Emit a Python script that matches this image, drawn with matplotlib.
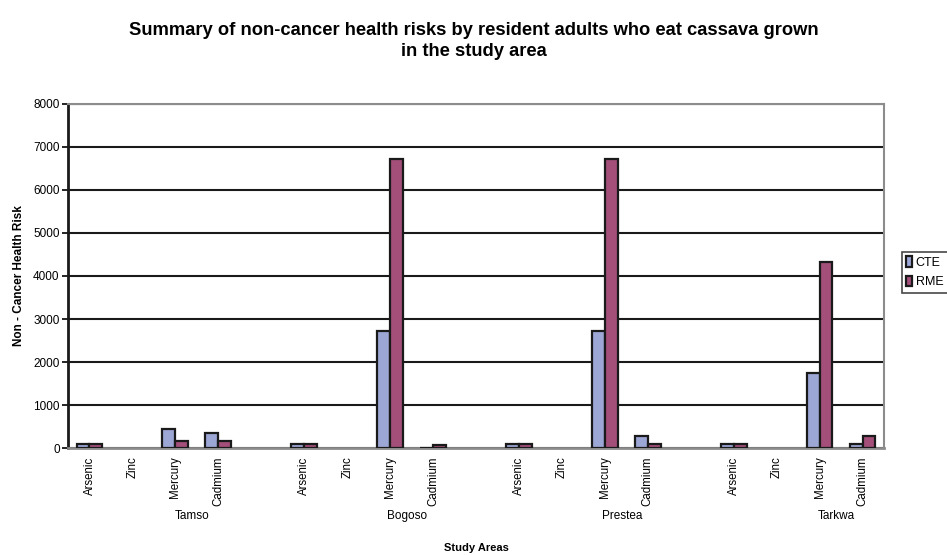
import numpy as np
import matplotlib
matplotlib.use("Agg")
import matplotlib.pyplot as plt
import matplotlib.transforms as mtransforms

plt.rcParams.update({'font.family': ['Liberation Sans', 'DejaVu Sans']})

areas = ['Tamso', 'Bogoso', 'Prestea', 'Tarkwa']
metals = ['Arsenic', 'Zinc', 'Mercury', 'Cadmium']
# zinc has no reported value in any area
cte = [100, np.nan, 440, 340,
       100, np.nan, 2720, 5,
       100, np.nan, 2720, 280,
       100, np.nan, 1740, 100]
rme = [100, np.nan, 170, 170,
       100, np.nan, 6730, 60,
       100, np.nan, 6730, 100,
       100, np.nan, 4330, 280]

CTE_C = "#9DA7D6"; RME_C = "#A34F7A"; FRAME = "#8C8C8C"

# one blank slot between study areas
xpos = np.array([g*5 + m for g in range(len(areas)) for m in range(len(metals))])
labels = [m for _ in areas for m in metals]

fig = plt.figure(figsize=(9.47, 5.56), dpi=100)
fig.patch.set_facecolor('white')
ax = fig.add_axes([0.0718, 0.1942, 0.8617, 0.6188])

w = 0.3
ax.bar(xpos - w/2, cte, w, color=CTE_C, edgecolor='#1a1a1a', lw=1.6, label='CTE', zorder=3)
ax.bar(xpos + w/2, rme, w, color=RME_C, edgecolor='#1a1a1a', lw=1.6, label='RME', zorder=3)

ax.set_xlim(-0.5, 18.5)
ax.set_ylim(0, 8000)
ax.set_yticks(np.arange(0, 8001, 1000))
ax.yaxis.grid(True, color='#1a1a1a', lw=1.5, zorder=0)
ax.set_axisbelow(True)
ax.tick_params(axis='y', labelsize=8.5, length=4, width=1.2, direction='out', pad=2)
ax.set_xticks(xpos)
ax.set_xticklabels(labels, rotation=90, fontsize=8.3)
ax.tick_params(axis='x', length=0, pad=6)

for s in ['top', 'right']:
    ax.spines[s].set_color(FRAME); ax.spines[s].set_linewidth(1.5)
ax.spines['bottom'].set_color(FRAME); ax.spines['bottom'].set_linewidth(2)
ax.spines['left'].set_color('#1a1a1a'); ax.spines['left'].set_linewidth(2)

trans = mtransforms.blended_transform_factory(ax.transData, ax.transAxes)
for g, area in enumerate(areas):
    ax.text(g*5 + 2.4, -0.197, area, transform=trans, ha='center', va='center', fontsize=8.5)

ax.set_xlabel('Study Areas', fontsize=8, fontweight='bold')
ax.xaxis.set_label_coords(0.5, -0.275)
ax.set_ylabel('Non - Cancer Health Risk', fontsize=8.5, fontweight='bold')
ax.yaxis.set_label_coords(-0.053, 0.5)

fig.text(0.5, 1 - 22/556, "Summary of non-cancer health risks by resident adults who eat cassava grown\nin the study area",
         ha='center', va='top', fontsize=13.2, fontweight='bold', linespacing=1.3)

leg = fig.legend(loc='upper left', bbox_to_anchor=(902/947, 1 - 252/556), fontsize=9,
                 frameon=True, fancybox=False, edgecolor='#1a1a1a', handlelength=0.45,
                 handleheight=0.9, handletextpad=0.3, borderpad=0.35, labelspacing=0.55,
                 borderaxespad=0)
leg.get_frame().set_linewidth(1.2)

fig.savefig("out.png", dpi=100, facecolor='white')
